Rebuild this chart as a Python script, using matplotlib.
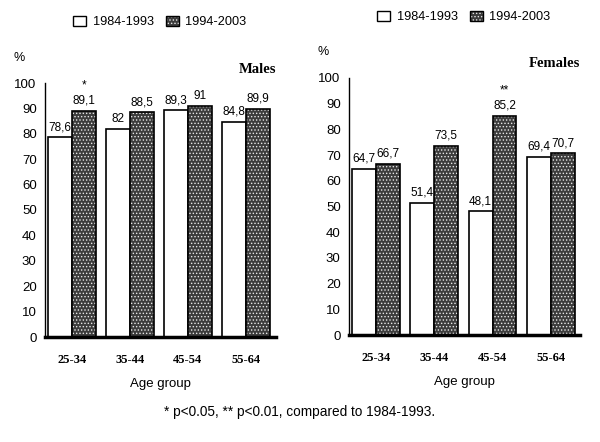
import matplotlib
matplotlib.use("Agg")
import matplotlib.pyplot as plt
from matplotlib.patches import Patch
import numpy as np

plt.rcParams['font.family'] = ['Liberation Sans', 'DejaVu Sans']
plt.rcParams['hatch.linewidth'] = 0.6

age_groups = ["25-34", "35-44", "45-54", "55-64"]
period_labels = ["1984-1993", "1994-2003"]
males_early = [78.6, 82, 89.3, 84.8]
males_late = [89.1, 88.5, 91, 89.9]
females_early = [64.7, 51.4, 48.1, 69.4]
females_late = [66.7, 73.5, 85.2, 70.7]
males_sig = ["*", "", "", ""]
females_sig = ["", "", "**", ""]
footnote = "* p<0.05, ** p<0.01, compared to 1984-1993."

def fmt(v):
    s = ("%g" % v)
    return s.replace(".", ",")

fig = plt.figure(figsize=(6.0, 4.42), dpi=100)
axL = fig.add_axes([45/600, 1-337/442, 231/600, 254/442])
axR = fig.add_axes([349/600, 1-335/442, 231/600, 257/442])

W = 0.41
DARK = '#3c3c3c'
HATCH = '.....'

def panel(ax, early, late, sig, title, xlim):
    x = np.arange(len(age_groups))
    b1 = ax.bar(x - W/2, early, W, facecolor='white', edgecolor='black', linewidth=1.2, zorder=2)
    ax.bar(x + W/2, late, W, facecolor=DARK, edgecolor='#e8e8e8', linewidth=0, hatch=HATCH, zorder=2)
    b2 = ax.bar(x + W/2, late, W, fill=False, edgecolor='black', linewidth=1.2, zorder=3)
    for rect, v in zip(b1, early):
        ax.annotate(fmt(v), (rect.get_x() + rect.get_width()/2, v), xytext=(0, 3),
                    textcoords='offset points', ha='center', va='bottom', fontsize=8.5)
    for rect, v, s in zip(b2, late, sig):
        ax.annotate(fmt(v), (rect.get_x() + rect.get_width()/2, v), xytext=(0, 3),
                    textcoords='offset points', ha='center', va='bottom', fontsize=8.5)
        if s:
            ax.annotate(s, (rect.get_x() + rect.get_width()/2, v), xytext=(0, 14),
                        textcoords='offset points', ha='center', va='bottom', fontsize=8.5)
    ax.set_ylim(0, 100)
    ax.set_xlim(*xlim)
    ax.set_yticks(range(0, 101, 10))
    ax.tick_params(axis='y', length=0, labelsize=9.5, pad=6)
    ax.set_xticks(x)
    ax.set_xticklabels(age_groups, family='Liberation Serif', fontweight='bold', fontsize=9)
    ax.tick_params(axis='x', length=0, pad=12)
    ax.set_xlabel("Age group", fontsize=9.5, labelpad=9)
    for s in ['top', 'right']:
        ax.spines[s].set_visible(False)
    ax.spines['left'].set_linewidth(1.0)
    ax.spines['bottom'].set_linewidth(2.5)
    ax.spines['bottom'].set_zorder(4)
    ax.text(1.0, 1.055, title, transform=ax.transAxes, ha='right', va='center',
            family='Liberation Serif', fontweight='bold', fontsize=10.5)
    ax.text(-0.11, 1.10, "%", transform=ax.transAxes, ha='center', va='center', fontsize=9)
    h1 = Patch(facecolor='white', edgecolor='black', linewidth=1.0)
    h2a = Patch(facecolor=DARK, edgecolor='#e8e8e8', linewidth=0, hatch=HATCH)
    h2b = Patch(fill=False, edgecolor='black', linewidth=1.0)
    return [h1, (h2a, h2b)]

hL = panel(axL, males_early, males_late, males_sig, "Males", (-0.466, 3.52))
hR = panel(axR, females_early, females_late, females_sig, "Females", (-0.463, 3.50))

for ax, h, pos in [(axL, hL, (160/600, 1-22/442)), (axR, hR, (464/600, 1-17/442))]:
    ax.legend(h, period_labels, loc='center', bbox_to_anchor=pos, bbox_transform=fig.transFigure,
              ncol=2, frameon=False, fontsize=9.2, handlelength=1.0, handleheight=0.85,
              handletextpad=0.5, columnspacing=1.0, borderpad=0)

fig.text(300/600, 1-412/442, footnote, ha='center', va='center', fontsize=9.8)

fig.savefig("out.png", dpi=100)
